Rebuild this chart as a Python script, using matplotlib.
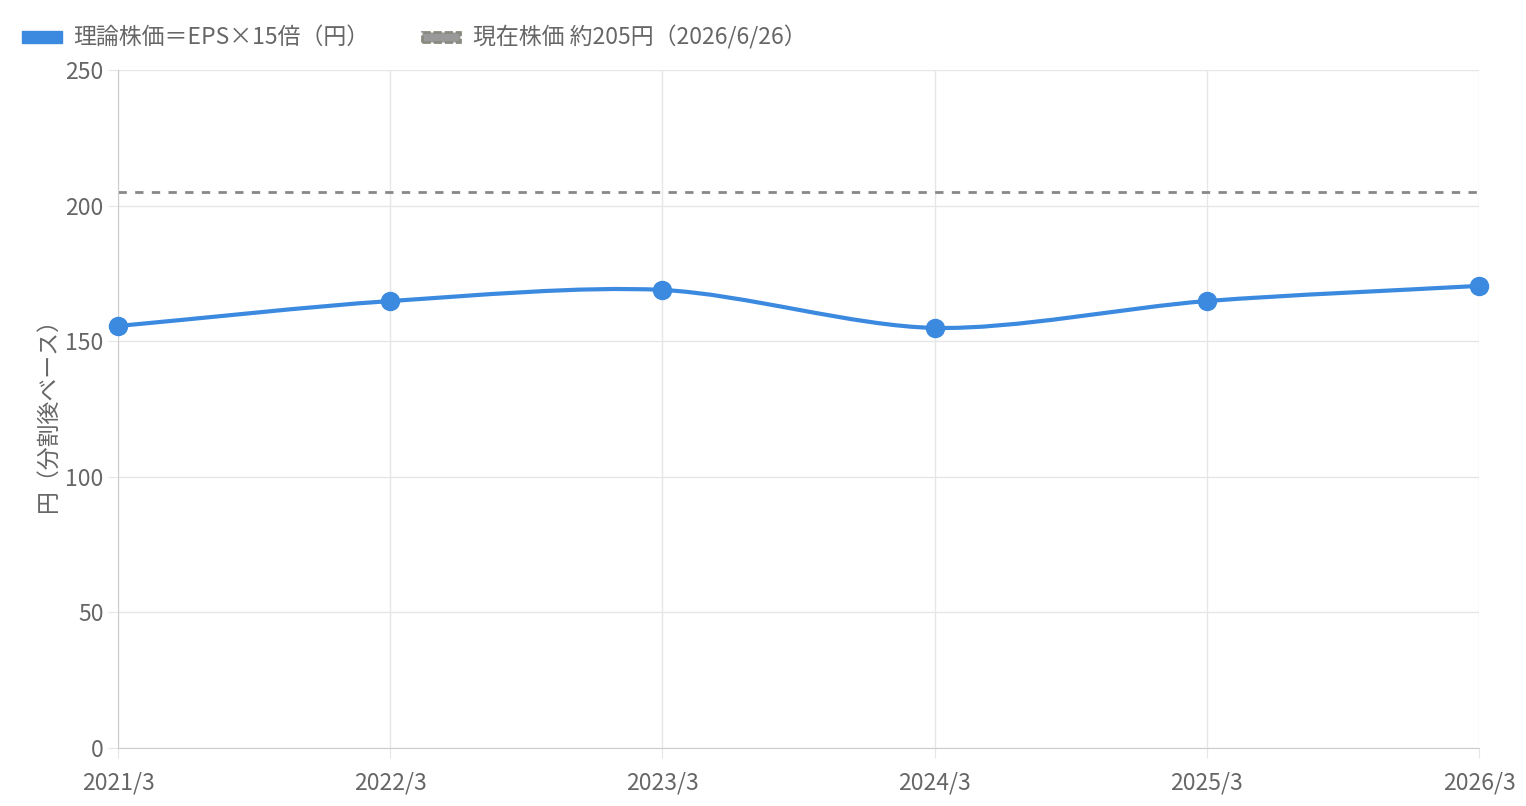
import matplotlib
matplotlib.use("Agg")
import matplotlib.pyplot as plt
import numpy as np
from matplotlib.path import Path
from matplotlib.patches import PathPatch, Rectangle
from matplotlib.transforms import IdentityTransform

plt.rcParams['font.family'] = ['Noto Sans CJK JP', 'DejaVu Sans']

categories = ["2021/3", "2022/3", "2023/3", "2024/3", "2025/3", "2026/3"]
theory_price = [155.6, 164.8, 168.9, 154.9, 164.8, 170.4]
current_price = 205
series_label = "理論株価＝EPS×15倍（円）"
current_label = "現在株価 約205円（2026/6/26）"
ylabel = "円（分割後ベース）"

blue = "#3b8ae0"
gray = "#888888"
txt = "#666666"

fig = plt.figure(figsize=(15.26, 8.06), dpi=100)
ax = fig.add_axes([118/1526, 1-748/806, (1479-118)/1526, (748-70)/806])
x = np.arange(len(categories))
ax.set_xlim(0, len(categories)-1)
ax.set_ylim(0, 250)
ax.set_yticks(range(0, 251, 50))
ax.set_xticks(x)
ax.set_xticklabels(categories)
ax.grid(True, color="#e6e6e6", linewidth=1)
ax.set_axisbelow(True)
for s in ["top", "right"]:
    ax.spines[s].set_visible(False)
for s in ["left", "bottom"]:
    ax.spines[s].set_color("#cccccc")
ax.tick_params(colors="#e6e6e6", labelcolor=txt, labelsize=16.5, length=7)
ax.tick_params(axis='x', pad=10)
ax.set_ylabel(ylabel, color=txt, fontsize=16.5, labelpad=4)

ax.axhline(current_price, color=gray, linewidth=2, linestyle=(0, (3, 3)), zorder=2)

# Chart.js-style spline in display coords
fig.canvas.draw()
pts = ax.transData.transform(np.column_stack([x, theory_price]))
t = 0.3
verts = [tuple(pts[0])]
codes = [Path.MOVETO]
cps = []
for i in range(len(pts)):
    prev = pts[max(i-1, 0)]; cur = pts[i]; nxt = pts[min(i+1, len(pts)-1)]
    d01 = np.hypot(*(cur-prev)); d12 = np.hypot(*(nxt-cur))
    tot = d01 + d12
    s01 = d01/tot if tot else 0; s12 = d12/tot if tot else 0
    c1 = cur - t*s01*(nxt-prev); c2 = cur + t*s12*(nxt-prev)
    if i == 0: c1 = cur
    if i == len(pts)-1: c2 = cur
    cps.append((c1, c2))
for i in range(1, len(pts)):
    verts += [tuple(cps[i-1][1]), tuple(cps[i][0]), tuple(pts[i])]
    codes += [Path.CURVE4]*3
patch = PathPatch(Path(verts, codes), transform=IdentityTransform(), fill=False,
                  edgecolor=blue, linewidth=3, zorder=3)
ax.add_artist(patch)
ax.plot(x, theory_price, 'o', color=blue, markersize=13, zorder=4, clip_on=False)

# legend
fig.patches.append(Rectangle((22/1526, 1-43/806), 40/1526, 12/806, transform=fig.transFigure,
                             facecolor=blue, edgecolor=blue))
fig.text(73/1526, 1-37/806, series_label, color=txt, fontsize=16.5, va='center')
fig.patches.append(Rectangle((422/1526, 1-42/806), 38/1526, 10/806, transform=fig.transFigure,
                             facecolor="#999999", edgecolor="#8a8a80", linewidth=2, linestyle=(0, (3, 1))))
fig.text(473/1526, 1-37/806, current_label, color=txt, fontsize=16.5, va='center')

fig.savefig("out.png", dpi=100)
